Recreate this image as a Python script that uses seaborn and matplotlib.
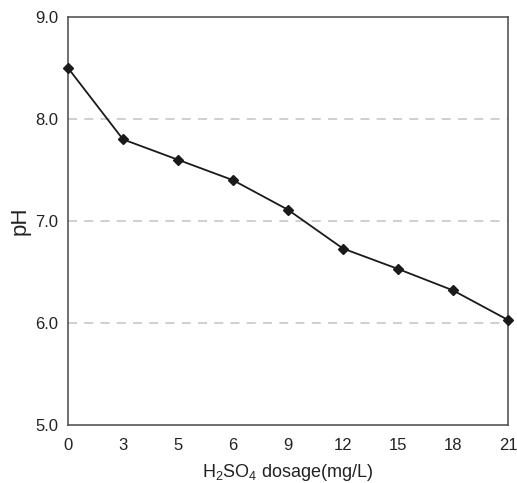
import matplotlib
matplotlib.use("Agg")
import matplotlib.pyplot as plt
import seaborn as sns
import pandas as pd

dosage = ["0", "3", "5", "6", "9", "12", "15", "18", "21"]
ph = [8.50, 7.80, 7.60, 7.40, 7.11, 6.73, 6.53, 6.32, 6.03]
yticks = [5.0, 6.0, 7.0, 8.0, 9.0]

sns.set_theme(style="white")
plt.rcParams['font.family'] = ['Liberation Sans', 'DejaVu Sans']
plt.rcParams['mathtext.fontset'] = 'custom'
plt.rcParams['mathtext.rm'] = 'Liberation Sans'

df = pd.DataFrame({"dosage": dosage, "ph": ph})

fig = plt.figure(figsize=(5.17, 4.83), dpi=100)
ax = fig.add_axes([0.1315, 0.12, 0.851, 0.845])

for y in [6.0, 7.0, 8.0]:
    ax.axhline(y, color="#cccccc", lw=1.3, ls=(0, (5, 4)), zorder=0)

sns.pointplot(data=df, x="dosage", y="ph", order=dosage, color="#1a1a1a",
              markers="D", markersize=5.5, linewidth=1.3, ax=ax, zorder=3)
for c in ax.collections:
    c.set_clip_on(False)
for l in ax.lines:
    l.set_clip_on(False)

ax.set_xlim(0, len(dosage) - 1)
ax.set_ylim(5.0, 9.0)
ax.set_yticks(yticks)
ax.set_yticklabels([f"{v:.1f}" for v in yticks])
ax.tick_params(axis="both", direction="in", length=4, width=0.8, colors="#555555",
               labelcolor="#222222", labelsize=12)
ax.tick_params(axis="x", pad=9)
ax.tick_params(axis="y", length=0, pad=7)
for s in ax.spines.values():
    s.set_color("#555555")
    s.set_linewidth(1.2)

ax.set_xlabel("H$_2$SO$_4$ dosage(mg/L)", fontsize=13, color="#222222", labelpad=7)
ax.set_ylabel("pH", fontsize=16, color="#222222", labelpad=3)

fig.savefig("out.png", dpi=100)
